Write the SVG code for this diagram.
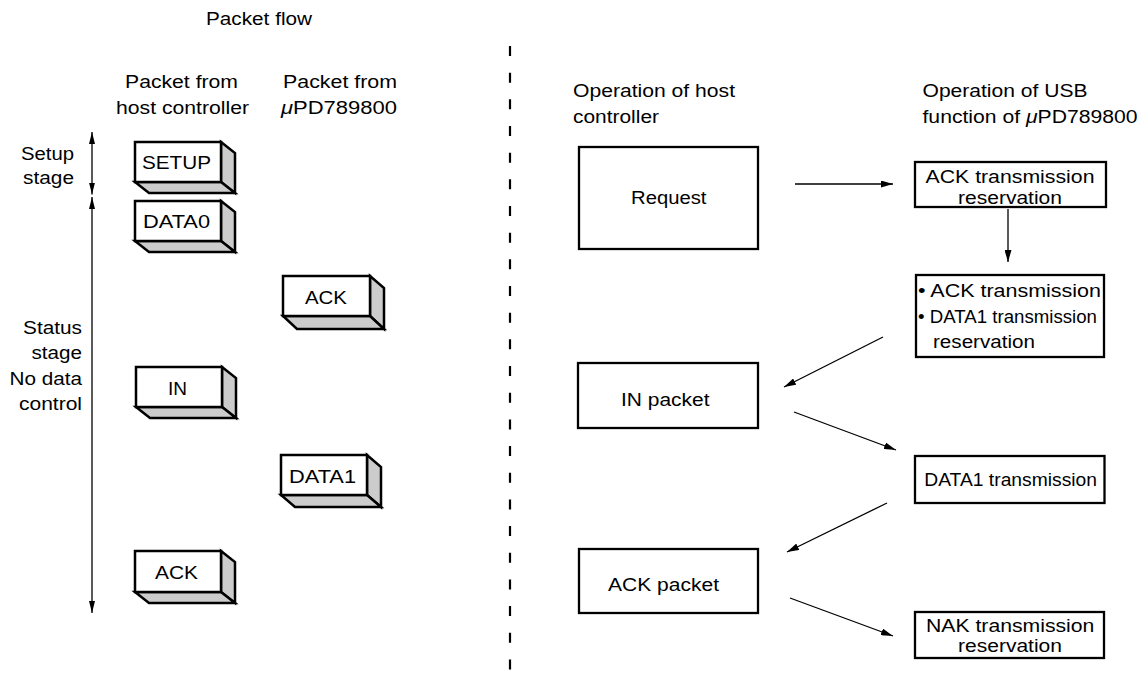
<svg xmlns="http://www.w3.org/2000/svg" width="1146" height="673" viewBox="0 0 1146 673">
<style>
text{font-family:"Liberation Sans",Arial,sans-serif;font-size:17.5px;fill:#000}
.c{text-anchor:middle}
.front{fill:#fff;stroke:#000;stroke-width:2.5}
.side{fill:#cccccc;stroke:#000;stroke-width:2.5;stroke-linejoin:miter}
.box{fill:#fff;stroke:#000;stroke-width:2.3}
.ln{stroke:#000;stroke-width:1.3;fill:none}
</style>
<defs>
<marker id="ah" markerUnits="userSpaceOnUse" markerWidth="12" markerHeight="7" refX="12" refY="3.5" orient="auto-start-reverse"><path d="M0,0 L12,3.5 L0,7 z" fill="#000"/></marker>
<marker id="vh" markerUnits="userSpaceOnUse" markerWidth="12" markerHeight="6" refX="12" refY="3" orient="auto-start-reverse"><path d="M0,0 L12,3 L0,6 z" fill="#000"/></marker>
</defs>
<rect width="1146" height="673" fill="#fff"/>

<g id="headers">
<text x="206" y="25" textLength="106" lengthAdjust="spacingAndGlyphs">Packet flow</text>
<text x="125" y="88" textLength="113" lengthAdjust="spacingAndGlyphs">Packet from</text>
<text x="116" y="114" textLength="133" lengthAdjust="spacingAndGlyphs">host controller</text>
<text x="283" y="88" textLength="114" lengthAdjust="spacingAndGlyphs">Packet from</text>
<text x="281" y="114" textLength="116" lengthAdjust="spacingAndGlyphs"><tspan font-style="italic">μ</tspan>PD789800</text>
<text x="21" y="160" textLength="53" lengthAdjust="spacingAndGlyphs">Setup</text>
<text x="23" y="184" textLength="51" lengthAdjust="spacingAndGlyphs">stage</text>
<text x="23" y="334" textLength="59" lengthAdjust="spacingAndGlyphs">Status</text>
<text x="31.5" y="359" textLength="50.5" lengthAdjust="spacingAndGlyphs">stage</text>
<text x="9.5" y="385" textLength="72.5" lengthAdjust="spacingAndGlyphs">No data</text>
<text x="19" y="410" textLength="63" lengthAdjust="spacingAndGlyphs">control</text>
<text x="573" y="97" textLength="162" lengthAdjust="spacingAndGlyphs">Operation of host</text>
<text x="573" y="123" textLength="86" lengthAdjust="spacingAndGlyphs">controller</text>
<text x="922.5" y="97" textLength="165" lengthAdjust="spacingAndGlyphs">Operation of USB</text>
<text x="922.5" y="123" textLength="215" lengthAdjust="spacingAndGlyphs">function of <tspan font-style="italic">μ</tspan>PD789800</text>
</g>

<line id="divider" x1="510" y1="46" x2="510" y2="670" stroke="#000" stroke-width="2.2" stroke-dasharray="10 16.67"/>

<g id="pkt-setup">
<polygon class="side" points="221,142 235,153 235,193 221,182"/>
<polygon class="side" points="135,182 221,182 235,193 149,193"/>
<rect class="front" x="135" y="142" width="86" height="40"/>
<text x="176.5" y="169" class="c" textLength="69" lengthAdjust="spacingAndGlyphs">SETUP</text>
</g>
<g id="pkt-data0">
<polygon class="side" points="221,201 235,212 235,252 221,241"/>
<polygon class="side" points="135,241 221,241 235,252 149,252"/>
<rect class="front" x="135" y="201" width="86" height="40"/>
<text x="176.5" y="227.5" class="c" textLength="67" lengthAdjust="spacingAndGlyphs">DATA0</text>
</g>
<g id="pkt-ack1">
<polygon class="side" points="370,276 384,288 384,329 370,316"/>
<polygon class="side" points="283,316 370,316 384,329 297,329"/>
<rect class="front" x="283" y="276" width="87" height="40"/>
<text x="326" y="304" class="c" textLength="42" lengthAdjust="spacingAndGlyphs">ACK</text>
</g>
<g id="pkt-in">
<polygon class="side" points="222,367 236,378 236,418 222,407"/>
<polygon class="side" points="136,407 222,407 236,418 150,418"/>
<rect class="front" x="136" y="367" width="86" height="40"/>
<text x="177.5" y="395" class="c" textLength="19" lengthAdjust="spacingAndGlyphs">IN</text>
</g>
<g id="pkt-data1">
<polygon class="side" points="367,455 381,467 381,507 367,495"/>
<polygon class="side" points="281,495 367,495 381,507 295,507"/>
<rect class="front" x="281" y="455" width="86" height="40"/>
<text x="322.5" y="483" class="c" textLength="67" lengthAdjust="spacingAndGlyphs">DATA1</text>
</g>
<g id="pkt-ack2">
<polygon class="side" points="221,551 235,562 235,603 221,592"/>
<polygon class="side" points="135,592 221,592 235,603 149,603"/>
<rect class="front" x="135" y="551" width="86" height="41"/>
<text x="176.5" y="578.5" class="c" textLength="43" lengthAdjust="spacingAndGlyphs">ACK</text>
</g>

<g id="request">
<rect class="box" x="579" y="147" width="179" height="102"/>
<text x="631" y="204" textLength="75.5" lengthAdjust="spacingAndGlyphs">Request</text>
</g>
<g id="ack-reserve">
<rect class="box" x="915" y="162" width="191" height="45"/>
<text x="925.5" y="183" textLength="169" lengthAdjust="spacingAndGlyphs">ACK transmission</text>
<text x="958" y="204" textLength="104" lengthAdjust="spacingAndGlyphs">reservation</text>
</g>
<g id="ack-data1">
<rect class="box" x="916" y="275" width="188" height="82"/>
<text x="918" y="297" textLength="183" lengthAdjust="spacingAndGlyphs">• ACK transmission</text>
<text x="918" y="323" textLength="179" lengthAdjust="spacingAndGlyphs">• DATA1 transmission</text>
<text x="933" y="348" textLength="102" lengthAdjust="spacingAndGlyphs">reservation</text>
</g>
<g id="in-packet">
<rect class="box" x="578" y="363" width="180" height="65"/>
<text x="621" y="406" textLength="88.5" lengthAdjust="spacingAndGlyphs">IN packet</text>
</g>
<g id="data1-tx">
<rect class="box" x="915" y="456" width="189.5" height="47"/>
<text x="924.3" y="485.5" textLength="172.7" lengthAdjust="spacingAndGlyphs">DATA1 transmission</text>
</g>
<g id="ack-packet">
<rect class="box" x="579" y="549" width="179" height="64"/>
<text x="608" y="591" textLength="111" lengthAdjust="spacingAndGlyphs">ACK packet</text>
</g>
<g id="nak-reserve">
<rect class="box" x="915" y="612" width="189" height="46"/>
<text x="926" y="632" textLength="168.4" lengthAdjust="spacingAndGlyphs">NAK transmission</text>
<text x="958" y="652" textLength="104" lengthAdjust="spacingAndGlyphs">reservation</text>
</g>

<g id="connectors">
<line class="ln" x1="92" y1="132" x2="92" y2="194.5" marker-start="url(#vh)" marker-end="url(#vh)"/>
<line class="ln" x1="92" y1="197" x2="92" y2="613" marker-start="url(#vh)" marker-end="url(#vh)"/>
<line class="ln" x1="795" y1="184" x2="893" y2="184" marker-end="url(#ah)"/>
<line class="ln" x1="1008" y1="209" x2="1008" y2="262" marker-end="url(#ah)"/>
<line class="ln" x1="883" y1="337" x2="784" y2="387" marker-end="url(#ah)"/>
<line class="ln" x1="794" y1="412" x2="896" y2="450" marker-end="url(#ah)"/>
<line class="ln" x1="887" y1="503" x2="787" y2="552" marker-end="url(#ah)"/>
<line class="ln" x1="790" y1="598" x2="893" y2="636" marker-end="url(#ah)"/>
</g>
</svg>
